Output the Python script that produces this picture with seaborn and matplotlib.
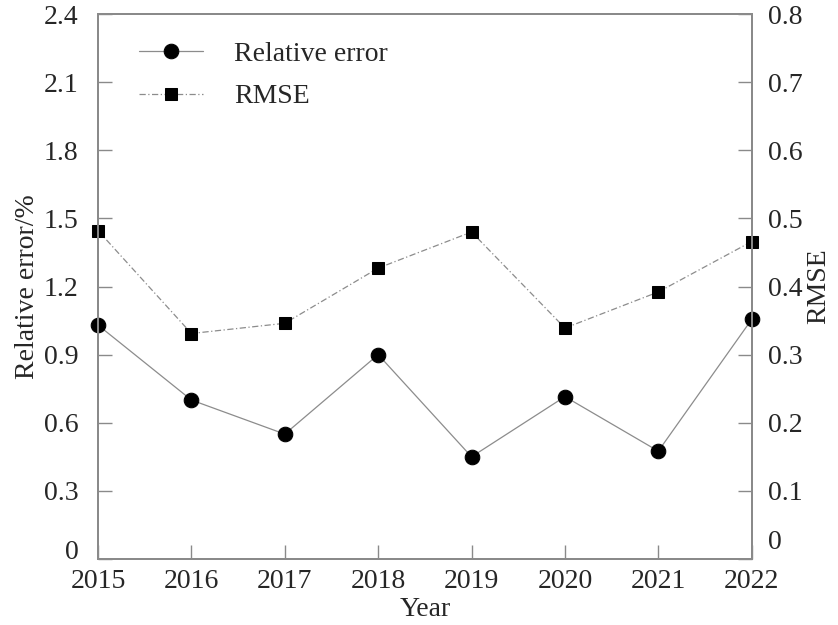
import matplotlib
matplotlib.use("Agg")
import matplotlib.pyplot as plt
import matplotlib.transforms as mtransforms
import seaborn as sns
import pandas as pd

years = [2015, 2016, 2017, 2018, 2019, 2020, 2021, 2022]
relative_error = [1.03, 0.70, 0.55, 0.90, 0.45, 0.715, 0.475, 1.055]
rmse = [0.482, 0.331, 0.346, 0.427, 0.480, 0.339, 0.392, 0.466]

left_ticks = [0, 0.3, 0.6, 0.9, 1.2, 1.5, 1.8, 2.1, 2.4]
left_labels = ["0", "0.3", "0.6", "0.9", "1.2", "1.5", "1.8", "2.1", "2.4"]
right_ticks = [0, 0.1, 0.2, 0.3, 0.4, 0.5, 0.6, 0.7, 0.8]
right_labels = ["0", "0.1", "0.2", "0.3", "0.4", "0.5", "0.6", "0.7", "0.8"]

df = pd.DataFrame({"Year": years, "Relative error": relative_error, "RMSE": rmse})

sns.set_style("ticks")
plt.rcParams["font.family"] = ["Liberation Serif", "DejaVu Serif"]
fs = 20

spine_color = "#8a8a8a"
line_color = "#8c8c8c"

fig = plt.figure(figsize=(8.38, 6.25), dpi=100)
ax = fig.add_axes([0.117, 0.1056, 0.78, 0.872])
ax2 = ax.twinx()

sns.lineplot(data=df, x="Year", y="Relative error", ax=ax, color=line_color,
             linewidth=0.9, linestyle="-", marker="o", markersize=10.5,
             markerfacecolor="black", markeredgecolor="black", clip_on=False,
             label="Relative error", legend=False)
sns.lineplot(data=df, x="Year", y="RMSE", ax=ax2, color=line_color,
             linewidth=0.9, linestyle=(0, (5, 2, 1, 2)), marker="s", markersize=8,
             markerfacecolor="black", markeredgecolor="black", clip_on=False,
             label="RMSE", legend=False)

ax.set_xlim(2015, 2022)
ax.set_ylim(0, 2.4)
ax2.set_ylim(0, 0.8)
ax.set_xticks(years)
ax.set_xticklabels([str(y) for y in years])
ax.set_yticks(left_ticks)
ax.set_yticklabels(left_labels)
ax2.set_yticks(right_ticks)
ax2.set_yticklabels(right_labels)

for a in (ax, ax2):
    for s in a.spines.values():
        s.set_color(spine_color)
        s.set_linewidth(1.4)
        s.set_visible(True)

ax.tick_params(axis="x", direction="in", length=10, width=1.0, color=spine_color,
               labelsize=fs, pad=7, top=False)
ax.tick_params(axis="y", direction="in", length=10, width=1.0, color=spine_color,
               labelsize=fs, pad=14, right=False)
ax2.tick_params(axis="y", direction="in", length=10, width=1.0, color=spine_color,
                labelsize=fs, pad=12)

# lift the zero labels clear of the year labels
for a, dy in ((ax, 7), (ax2, 14)):
    zero = a.get_yticklabels()[0]
    zero.set_transform(zero.get_transform() +
                       mtransforms.ScaledTranslation(0, dy / 72, fig.dpi_scale_trans))

ax.set_xlabel("Year", fontsize=fs, labelpad=2)
ax.set_ylabel("Relative error/%", fontsize=fs, labelpad=3)
ax2.set_ylabel("RMSE", fontsize=fs, labelpad=2)

h1, l1 = ax.get_legend_handles_labels()
h2, l2 = ax2.get_legend_handles_labels()
ax2.legend(h1 + h2, l1 + l2, loc="upper left", bbox_to_anchor=(0.025, 0.995),
           frameon=False, fontsize=fs, handlelength=2.3, handletextpad=1.1,
           labelspacing=0.6)

fig.savefig("out.png", dpi=100)
